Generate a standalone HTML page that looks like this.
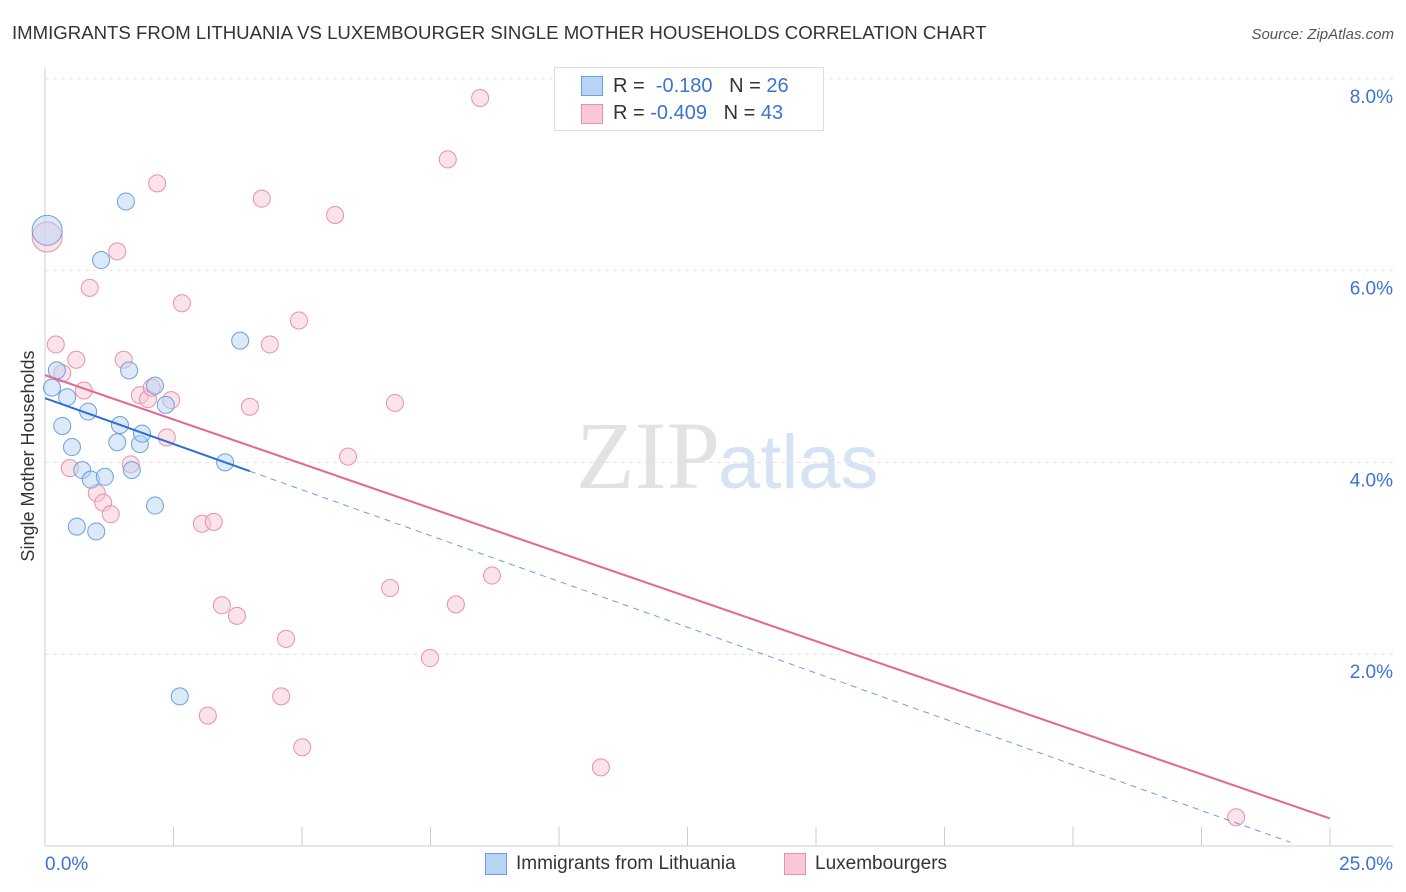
<!DOCTYPE html>
<html><head><meta charset="utf-8"><style>
body{margin:0;background:#fff;font-family:"Liberation Sans",sans-serif;}
#c{position:relative;width:1406px;height:892px;overflow:hidden}
</style></head><body>
<div id="c">
<svg id="s" width="1406" height="892" xmlns="http://www.w3.org/2000/svg">
<text x="12" y="39" font-size="18.6" fill="#333">IMMIGRANTS FROM LITHUANIA VS LUXEMBOURGER SINGLE MOTHER HOUSEHOLDS CORRELATION CHART</text>
<text x="1394" y="39" font-size="15" fill="#555" font-style="italic" text-anchor="end">Source: ZipAtlas.com</text>
<text x="720" y="488" font-size="96" fill="#e2e2e2" font-family="Liberation Serif" text-anchor="end">ZIP</text>
<text x="718" y="488" font-size="76" fill="#d5e3f5">atlas</text>
<text transform="translate(34,456) rotate(-90)" font-size="18" fill="#333" text-anchor="middle">Single Mother Households</text>
<g id="grid"></g><g id="marks"></g>
</svg>
<div style="position:absolute;left:554px;top:67px;width:268px;height:62px;border:1px solid #ddd;background:#fff;font-size:20px;color:#333">
<div style="position:absolute;left:26px;top:8px;width:20px;height:18px;background:#b8d3f3;border:1px solid #6d9fe0"></div>
<div style="position:absolute;left:58px;top:7px">R = &nbsp;<span style="color:#3b73d1">-0.180</span> &nbsp;&nbsp;N = <span style="color:#3b73d1">26</span></div>
<div style="position:absolute;left:26px;top:36px;width:20px;height:18px;background:#f8c8d6;border:1px solid #ec8fab"></div>
<div style="position:absolute;left:58px;top:34px">R = <span style="color:#3b73d1">-0.409</span> &nbsp;&nbsp;N = <span style="color:#3b73d1">43</span></div>
</div>
<div style="position:absolute;left:485px;top:853px;width:20px;height:20px;background:#b8d3f3;border:1px solid #6d9fe0"></div>
<div style="position:absolute;left:516px;top:853px;font-size:19px;color:#333">Immigrants from Lithuania</div>
<div style="position:absolute;left:784px;top:853px;width:20px;height:20px;background:#f8c8d6;border:1px solid #ec8fab"></div>
<div style="position:absolute;left:815px;top:853px;font-size:19px;color:#333">Luxembourgers</div>
</div>
<script>
const blueX=[0.04,0.13,0.22,0.32,0.41,0.50,0.59,0.69,0.80,0.85,0.95,1.04,1.11,1.34,1.39,1.50,1.56,1.61,1.76,1.80,2.04,2.04,2.24,2.50,3.34,3.62];
const blueY=[6.42,4.78,4.96,4.38,4.68,4.16,3.33,3.92,4.53,3.82,3.28,6.11,3.85,4.21,4.39,6.72,4.96,3.92,4.19,4.30,3.55,4.80,4.60,1.56,4.00,5.27];
const pinkX=[0.04,0.20,0.32,0.46,0.58,0.72,0.83,0.96,1.08,1.22,1.34,1.46,1.59,1.76,1.91,1.98,2.08,2.26,2.34,2.54,2.91,3.02,3.13,3.28,3.56,3.80,4.02,4.17,4.38,4.47,4.71,4.77,5.38,5.62,6.40,6.49,7.14,7.47,7.62,8.07,8.29,10.31,22.09];
const pinkY=[6.35,5.23,4.93,3.94,5.07,4.75,5.82,3.68,3.58,3.46,6.20,5.07,3.98,4.70,4.66,4.78,6.91,4.26,4.65,5.66,3.36,1.36,3.38,2.51,2.40,4.58,6.75,5.23,1.56,2.16,5.48,1.03,6.58,4.06,2.69,4.62,1.96,7.16,2.52,7.80,2.82,0.82,0.30];
const yTicks=[2,4,6,8];
const yTickLabels=["2.0%","4.0%","6.0%","8.0%"];
const blueFit=[4.67,-0.2005];
const pinkFit=[4.91,-0.194];
const X=v=>45+v*53.92, Y=v=>846-v*95.9;
const NS="http://www.w3.org/2000/svg";
const grid=document.getElementById('grid'), marks=document.getElementById('marks');
function mk(t,a,p){const e=document.createElementNS(NS,t);for(const k in a)e.setAttribute(k,a[k]);p.appendChild(e);return e;}
yTicks.forEach((t,i)=>{
 const l=mk('line',{x1:45,x2:1393,y1:Y(t),y2:Y(t),stroke:'#e4e4e4','stroke-dasharray':'4,4'},grid);
 
 
 const tx=mk('text',{x:1393,y:Y(t)+24,'font-size':19,fill:'#3b73d1','text-anchor':'end'},grid);
 tx.textContent=yTickLabels[i];
 
 
});
const ax=mk('line',{x1:45,x2:45,y1:68,y2:846,stroke:'#ccc'},grid);


const bx=mk('line',{x1:45,x2:1393,y1:846,y2:846,stroke:'#ccc'},grid);


for(let i=1;i<=10;i++){const px=45+i*128.5;const t=mk('line',{x1:px,x2:px,y1:827,y2:846,stroke:'#ccc'},grid);
 
 }
[["0.0%",45,'start'],["25.0%",1393,'end']].forEach(d=>{const t=mk('text',{x:d[1],y:870,'font-size':19,fill:'#3b73d1','text-anchor':d[2]},grid);t.textContent=d[0];
 
 });
function dots(xs,ys,fill,stroke,name){xs.forEach((x,i)=>{const r=i===0?15:8.5;
 const c=mk('circle',{cx:X(x),cy:Y(ys[i]),r:r,fill:fill,'fill-opacity':0.5,stroke:stroke,'stroke-width':1},marks);
 
 });}
dots(pinkX,pinkY,'#f8c8d6','#ec8fab','point-luxembourgers');
dots(blueX,blueY,'#b8d3f3','#6d9fe0','point-lithuania');
const lb=mk('line',{x1:X(0),y1:Y(blueFit[0]),x2:X(3.8),y2:Y(blueFit[0]+blueFit[1]*3.8),stroke:'#2d6fd6','stroke-width':2},marks);


const ld=mk('line',{x1:X(3.8),y1:Y(blueFit[0]+blueFit[1]*3.8),x2:X(23.1),y2:Y(blueFit[0]+blueFit[1]*23.1),stroke:'#6d9fe0','stroke-width':1,'stroke-dasharray':'6,5'},marks);


const lp=mk('line',{x1:X(0),y1:Y(pinkFit[0]),x2:X(23.83),y2:Y(pinkFit[0]+pinkFit[1]*23.83),stroke:'#e8658d','stroke-width':2},marks);


</script>
</body></html>
